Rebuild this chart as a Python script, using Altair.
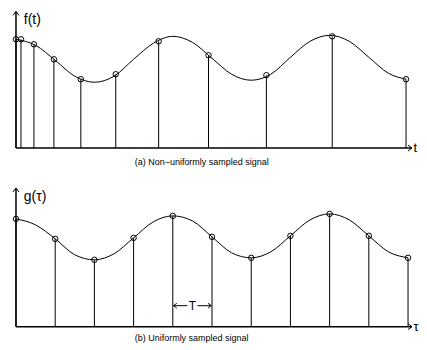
import altair as alt
import pandas as pd

FONT = "Liberation Sans"

# Panel (a): non-uniform samples
a_samp_t = [0.0, 0.127, 0.458, 0.967, 1.654, 2.545, 3.639, 4.911, 6.387, 8.066, 9.949]
a_samp_v = [1.09, 1.09, 1.04, 0.89, 0.69, 0.74, 1.07, 0.93, 0.73, 1.12, 0.69]
a_curve_t = [0.0, 0.5, 1.0, 1.5, 2.0, 2.5, 3.0, 3.5, 4.0, 4.5, 5.0, 5.5, 6.0, 6.5, 7.0, 7.5, 8.0, 8.5, 9.0, 9.5, 9.949]
a_curve_v = [1.09, 1.03, 0.88, 0.72, 0.66, 0.72, 0.89, 1.05, 1.12, 1.06, 0.90, 0.74, 0.68, 0.74, 0.91, 1.07, 1.13, 1.07, 0.91, 0.75, 0.69]

# Panel (b): uniform samples, period T
b_samp_t = [0, 1, 2, 3, 4, 5, 6, 7, 8, 9, 10]
b_samp_v = [1.08, 0.88, 0.67, 0.89, 1.11, 0.90, 0.69, 0.91, 1.13, 0.91, 0.69]
b_curve_t = [0.0, 0.5, 1.0, 1.5, 2.0, 2.5, 3.0, 3.5, 4.0, 4.5, 5.0, 5.5, 6.0, 6.5, 7.0, 7.5, 8.0, 8.5, 9.0, 9.5, 10.0]
b_curve_v = [1.08, 1.02, 0.88, 0.72, 0.67, 0.73, 0.89, 1.05, 1.11, 1.06, 0.90, 0.74, 0.69, 0.75, 0.91, 1.07, 1.13, 1.07, 0.91, 0.75, 0.69]

# axis extents (data units)
X_END = 10.10          # tip of horizontal arrow
LABEL_X = 10.14        # position of the axis name at the right edge
T_MARK = [4.0, 5.0]    # one sampling period
T_LEVEL = 0.21

X_DOMAIN = [-0.2036, 10.254]

ARROW_R = "M-1,-0.75L0,0L-1,0.75"
ARROW_L = "M1,-0.75L0,0L1,0.75"
ARROW_U = "M-0.75,1L0,0L0.75,1"


def head(df, shape, size, X, Y):
    return alt.Chart(df).mark_point(
        shape=shape, size=size, filled=False, fill="transparent", stroke="black",
        color="black", strokeWidth=1, opacity=1).encode(x=X, y=Y)


def panel(samp_t, samp_v, curve_t, curve_v, ylabel, xlabel, caption, cap_v, y_domain, height, top_v, extra=None):
    xs = alt.Scale(domain=X_DOMAIN, nice=False, zero=False)
    ys = alt.Scale(domain=y_domain, nice=False, zero=False)
    samp = pd.DataFrame({"t": samp_t, "v": samp_v, "z": 0.0})
    curve = pd.DataFrame({"t": curve_t, "v": curve_v})
    X = alt.X("t:Q", scale=xs, axis=None)
    Y = alt.Y("v:Q", scale=ys, axis=None)

    stems = alt.Chart(samp).mark_rule(color="black", strokeWidth=1).encode(
        x=X, y=Y, y2="z:Q")
    line = alt.Chart(curve).mark_line(color="black", strokeWidth=1, interpolate="monotone").encode(x=X, y=Y)
    pts = alt.Chart(samp).mark_point(shape="circle", size=30, filled=False, color="black",
                                     strokeWidth=1, opacity=1).encode(x=X, y=Y)

    xaxis = alt.Chart(pd.DataFrame({"t": [0.0], "t2": [X_END], "v": [0.0]})).mark_rule(
        color="black", strokeWidth=1.5).encode(x=X, x2="t2:Q", y=Y)
    yaxis = alt.Chart(pd.DataFrame({"t": [0.0], "v": [0.0], "v2": [top_v]})).mark_rule(
        color="black", strokeWidth=1.5).encode(x=X, y=Y, y2="v2:Q")

    head_r = head(pd.DataFrame({"t": [X_END], "v": [0.0]}), ARROW_R, 64, X, Y)
    head_u = head(pd.DataFrame({"t": [0.0], "v": [top_v]}), ARROW_U, 64, X, Y)

    xlab = alt.Chart(pd.DataFrame({"t": [LABEL_X], "v": [0.0], "s": [xlabel]})).mark_text(
        font=FONT, fontSize=13, baseline="middle", align="left", color="black").encode(x=X, y=Y, text="s:N")
    ylab = alt.Chart(pd.DataFrame({"t": [0.2], "v": [top_v - 0.09], "s": [ylabel]})).mark_text(
        font=FONT, fontSize=14, baseline="middle", align="left", color="black").encode(x=X, y=Y, text="s:N")
    cap = alt.Chart(pd.DataFrame({"t": [3.03], "v": [cap_v], "s": [caption]})).mark_text(
        font=FONT, fontSize=9, baseline="middle", align="left", color="black").encode(x=X, y=Y, text="s:N")

    layers = [stems, line, pts, xaxis, yaxis, head_r, head_u, xlab, ylab, cap]
    if extra is not None:
        layers += extra(X, Y)
    return alt.layer(*layers).properties(width=411, height=height)


def t_marker(X, Y):
    a, b = T_MARK
    mid = (a + b) / 2
    segs = pd.DataFrame({"t": [a + 0.02, mid + 0.13], "t2": [mid - 0.13, b - 0.02], "v": [T_LEVEL, T_LEVEL]})
    lines = alt.Chart(segs).mark_rule(color="black", strokeWidth=1).encode(x=X, x2="t2:Q", y=Y)
    hl = head(pd.DataFrame({"t": [a + 0.02], "v": [T_LEVEL]}), ARROW_L, 40, X, Y)
    hr = head(pd.DataFrame({"t": [b - 0.02], "v": [T_LEVEL]}), ARROW_R, 40, X, Y)
    lab = alt.Chart(pd.DataFrame({"t": [mid], "v": [T_LEVEL], "s": ["T"]})).mark_text(
        font=FONT, fontSize=12, align="center", baseline="middle", color="black").encode(x=X, y=Y, text="s:N")
    return [lines, hl, hr, lab]


top = panel(a_samp_t, a_samp_v, a_curve_t, a_curve_v, "f(t)", "t",
            "(a) Non\u2212uniformly sampled signal", -0.14, [-0.22, 1.38], 160, 1.37)
bottom = panel(b_samp_t, b_samp_v, b_curve_t, b_curve_v, "g(\u03c4)", "\u03c4",
               "(b) Uniformly sampled signal", -0.11, [-0.17, 1.57], 174, 1.39, extra=t_marker)

chart = alt.vconcat(top, bottom, spacing=0).properties(
    padding=0, background="white"
).configure_view(stroke=None)

chart.save("out.html", embed_options={"renderer": "svg", "actions": False})
